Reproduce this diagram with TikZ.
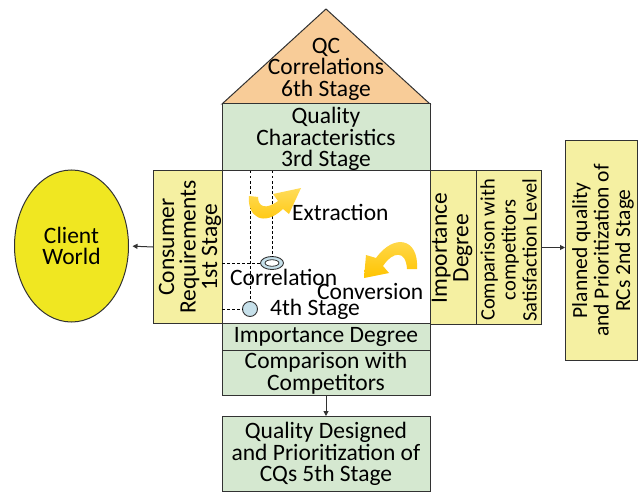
\documentclass[tikz,border=0pt]{standalone}
\usepackage{fontspec}
\setmainfont{Carlito}
\usetikzlibrary{arrows.meta,shapes.geometric}
\definecolor{roofc}{RGB}{248,204,152}
\definecolor{greenc}{RGB}{213,232,208}
\definecolor{yellowc}{RGB}{245,240,162}
\definecolor{clientc}{RGB}{240,231,33}
\definecolor{edgec}{RGB}{50,50,50}
\definecolor{goldc}{RGB}{255,196,0}
\definecolor{goldl}{RGB}{255,220,90}
\definecolor{bluec}{RGB}{198,224,234}
\begin{document}
\begin{tikzpicture}[x=1pt,y=-1pt,
  box/.style={draw=edgec, line width=1pt, inner sep=0pt, outer sep=0pt},
  lbl/.style={font=\fontsize{23.5}{21.5}\selectfont, align=center, inner sep=0pt},
  lblsmall/.style={font=\fontsize{20.5}{21}\selectfont, align=center, inner sep=0pt},
  lblmid/.style={font=\fontsize{21.5}{21.5}\selectfont, align=center, inner sep=0pt},
  conn/.style={draw=edgec, line width=1pt, -{Triangle[length=5pt,width=5pt]}},
  dashline/.style={draw=black, line width=0.8pt, dash pattern=on 2.5pt off 2.5pt},
  swooshfill/.style={shade, top color=goldl, bottom color=goldc, draw=none}]
\useasboundingbox (0,0) rectangle (640,492);

% roof
\coordinate (rl) at (222,104);
\coordinate (ra) at (326,9);
\coordinate (rr) at (430,104);
\draw[box, fill=roofc, line join=miter] (rl) -- (ra) -- (rr) -- cycle;
\node[lbl] (roof) at (326,69) {QC\\Correlations\\6th Stage};

% central column
\node[box, fill=greenc, minimum width=208pt, minimum height=67pt] (qc) at (326,137.5) {};
\node[lbl] (qct) at (326,139) {Quality\\Characteristics\\3rd Stage};
\node[box, fill=white, minimum width=208pt, minimum height=152pt] (mx) at (326,247) {};
\node[box, fill=greenc, minimum width=208pt, minimum height=27pt] (imp) at (326,336.5) {};
\node[lbl] (impt) at (326,337) {Importance Degree};
\node[box, fill=greenc, minimum width=208pt, minimum height=45pt] (comp) at (326,372.5) {};
\node[lbl] (compt) at (326,373) {Comparison with\\Competitors};
\node[box, fill=greenc, minimum width=208pt, minimum height=75pt] (qd) at (326,453.5) {};
\node[lbl] (qdt) at (326,454) {Quality Designed\\and Prioritization of\\CQs 5th Stage};

% left
\node[box, fill=yellowc, minimum width=69pt, minimum height=152pt] (cr) at (187.5,247) {};
\node[lbl, rotate=90] (crt) at (190,247) {Consumer\\Requirements\\1st Stage};
\node[box, ellipse, fill=clientc, minimum width=114pt, minimum height=152pt] (client) at (71.5,246) {};
\node[lbl] (clientt) at (71.5,246) {Client\\World};

% right
\node[box, fill=yellowc, minimum width=46pt, minimum height=153pt] (rimp) at (453,247.5) {};
\node[lbl, rotate=90] (rimpt) at (452,248) {Importance\\Degree};
\node[box, fill=yellowc, minimum width=65pt, minimum height=153pt] (rcomp) at (508.5,247.5) {};
\node[lblsmall, rotate=90] (rcompt) at (508.5,250) {Comparison with\\competitors\\Satisfaction Level};
\node[box, fill=yellowc, minimum width=72pt, minimum height=219pt] (pl) at (601,250.5) {};
\node[lblmid, rotate=90] (plt) at (603,250.5) {Planned quality\\and Prioritization of\\RCs 2nd Stage};

% connectors
\draw[conn, shorten >=4pt] (cr.west) -- (client.east);
\draw[conn] (rcomp.east) -- (rcomp.east -| pl.west);
\draw[conn] (comp.south) -- (qd.north);

% matrix content
\node[draw=edgec, line width=0.9pt, ellipse, fill=bluec, minimum width=23pt, minimum height=13pt, inner sep=0pt] (corr) at (272,263) {};
\node[draw=edgec, line width=0.8pt, ellipse, fill=white, minimum width=14pt, minimum height=6.5pt, inner sep=0pt] (corrin) at (272,263) {};
\node[draw=edgec, line width=0.9pt, circle, fill=bluec, minimum size=15pt, inner sep=0pt] (st4) at (250,309) {};
\coordinate (d1) at (272,171);
\coordinate (d2) at (250,171);
\coordinate (d3) at (222,263);
\coordinate (d4) at (222,309);
\draw[dashline] (d1) -- (corr.north);
\draw[dashline] (d2) -- (st4.north);
\draw[dashline] (d3) -- (corr.west);
\draw[dashline] (d4) -- (st4.west);

% yellow swooshes (filled arrow shapes)
\path[swooshfill] (249,196) .. controls (247,216) and (263,228) .. (283,209)
  -- (289,214) -- (301,188) -- (273,194) -- (278,201)
  .. controls (266,210) and (258,207) .. (258,197) -- cycle;
\path[swooshfill] (417,269) .. controls (419,238) and (394,233) .. (376,258)
  -- (366,255) -- (364,278) -- (389,273) -- (383,266)
  .. controls (393,251) and (406,250) .. (407,269) -- cycle;

\node[lbl, anchor=base west] (ext) at (292,220) {Extraction};
\node[lbl, anchor=base west] (cor) at (230,285) {Correlation};
\node[lbl, anchor=base west] (conv) at (317,299) {Conversion};
\node[lbl, anchor=base west] (fourth) at (270,315) {4th Stage};
\end{tikzpicture}
\end{document}
